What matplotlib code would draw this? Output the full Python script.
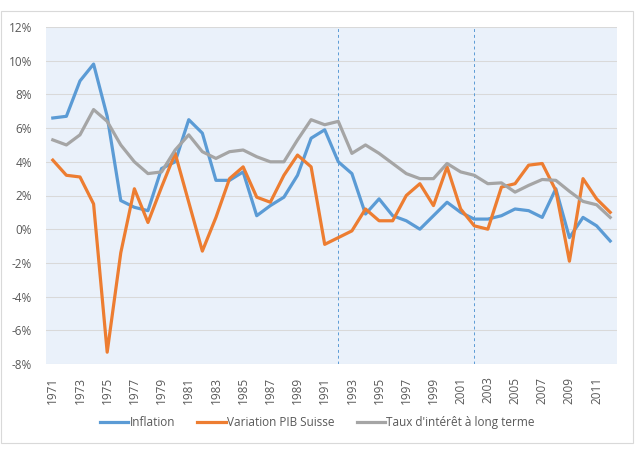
import numpy as np
import matplotlib.pyplot as plt
from matplotlib.patches import Rectangle
from matplotlib.ticker import FuncFormatter

years = list(range(1971, 2013))

inflation = [6.6, 6.7, 8.8, 9.8, 6.7, 1.7, 1.3, 1.1, 3.6, 4.0,
             6.5, 5.7, 2.9, 2.9, 3.4, 0.8, 1.4, 1.9, 3.2, 5.4,
             5.9, 4.0, 3.3, 0.9, 1.8, 0.8, 0.5, 0.0, 0.8, 1.6,
             1.0, 0.6, 0.6, 0.8, 1.2, 1.1, 0.7, 2.4, -0.5, 0.7,
             0.2, -0.7]

pib = [4.1, 3.2, 3.1, 1.5, -7.3, -1.4, 2.4, 0.4, 2.5, 4.5,
       1.6, -1.3, 0.7, 3.0, 3.7, 1.9, 1.6, 3.2, 4.4, 3.7,
       -0.9, -0.5, -0.1, 1.2, 0.5, 0.5, 2.0, 2.7, 1.4, 3.7,
       1.2, 0.2, 0.0, 2.5, 2.7, 3.8, 3.9, 2.3, -1.9, 3.0,
       1.8, 1.0]

taux = [5.3, 5.0, 5.6, 7.1, 6.4, 5.0, 4.0, 3.3, 3.4, 4.7,
        5.6, 4.6, 4.2, 4.6, 4.7, 4.3, 4.0, 4.0, 5.3, 6.5,
        6.2, 6.4, 4.5, 5.0, 4.5, 3.9, 3.3, 3.0, 3.0, 3.9,
        3.4, 3.2, 2.7, 2.75, 2.2, 2.6, 2.95, 2.9, 2.25, 1.65,
        1.45, 0.7]

markers_years = [1992, 2002]

plt.rcParams['font.family'] = ['Open Sans', 'DejaVu Sans']

fig = plt.figure(figsize=(6.35, 4.49), dpi=100)
ax = fig.add_axes([46 / 635, 85 / 449, 571 / 635, 337 / 449])

x = np.arange(len(years))
ax.set_facecolor('#EAF1FA')
ax.plot(x, inflation, color='#5B9BD5', lw=2.3, label='Inflation', solid_joinstyle='round')
ax.plot(x, pib, color='#ED7D31', lw=2.3, label='Variation PIB Suisse', solid_joinstyle='round')
ax.plot(x, taux, color='#A5A5A5', lw=2.3, label="Taux d'intérêt à long terme", solid_joinstyle='round')

for yr in markers_years:
    ax.axvline(years.index(yr), color='#5B9BD5', lw=0.7, ls=(0, (3, 3)), zorder=1)

ax.set_xlim(-0.5, len(years) - 0.5)
ax.set_ylim(-8, 12)
ax.set_yticks(np.arange(-8, 13, 2))
ax.yaxis.set_major_formatter(FuncFormatter(lambda v, p: f'{v:.0f}%'))
ax.set_xticks(x[::2])
ax.set_xticklabels([str(y) for y in years[::2]], rotation=90)
ax.tick_params(length=0, labelsize=8.5, labelcolor='#595959')
ax.tick_params(axis='x', pad=9)
ax.tick_params(axis='y', pad=10)
ax.grid(axis='y', color='#D9D9D9', lw=0.75)
ax.set_axisbelow(True)
for s in ax.spines.values():
    s.set_visible(False)

fig.legend(loc='lower center', bbox_to_anchor=(0.5, 0.02), ncol=3, frameon=False,
           fontsize=8.5, labelcolor='#595959', handlelength=2.4, handletextpad=0.1,
           columnspacing=1.9)

fig.patches.append(Rectangle((1 / 635, 6 / 449), 632 / 635, 432 / 449,
                             transform=fig.transFigure, fill=False,
                             edgecolor='#D9D9D9', lw=0.8))

fig.savefig('out.png', dpi=100)
